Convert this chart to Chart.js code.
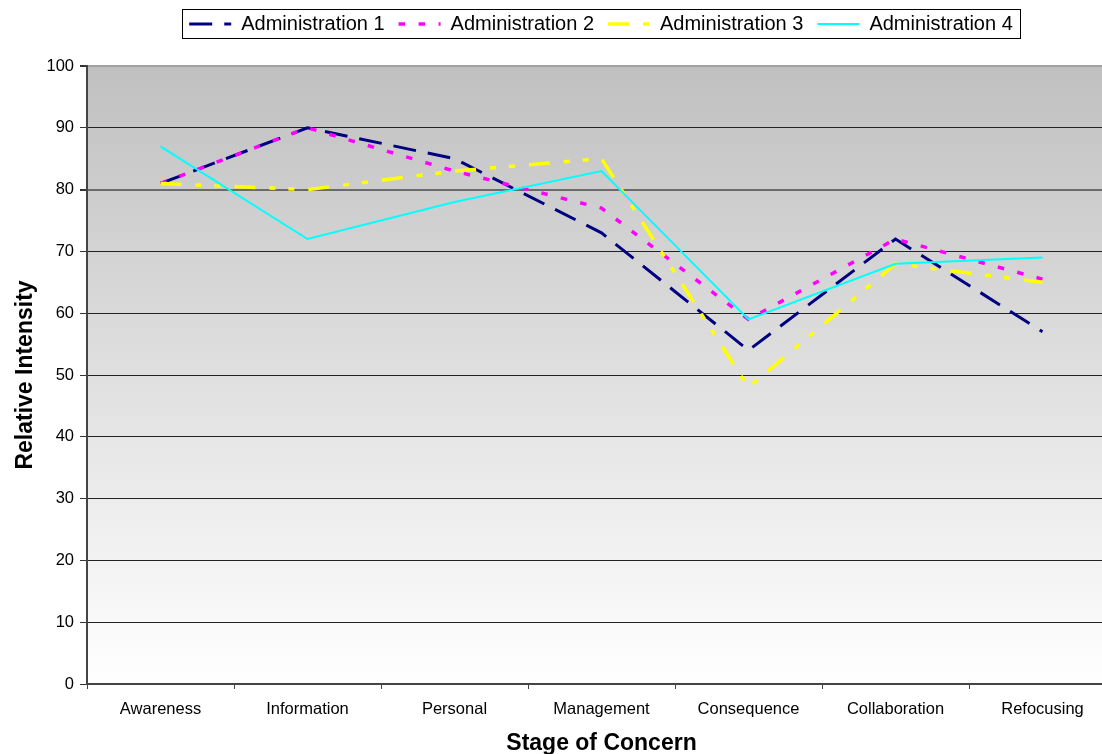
<!DOCTYPE html>
<html>
<head>
<meta charset="utf-8">
<title>Stages of Concern</title>
<script src="https://cdn.jsdelivr.net/npm/chart.js@4.4.1/dist/chart.umd.min.js"></script>
<style>
  html, body { margin: 0; padding: 0; background: #ffffff; overflow: hidden; }
  #wrap { width: 1102px; height: 754px; overflow: hidden; position: relative; }
  canvas { display: block; }
</style>
</head>
<body>
<div id="wrap"><canvas id="c" width="1202" height="754"></canvas></div>
<script>
// Stages of concern profile, one series per administration
const stages = ['Awareness', 'Information', 'Personal', 'Management', 'Consequence', 'Collaboration', 'Refocusing'];
const admin1 = [81, 90, 85, 73, 54, 72, 57];
const admin2 = [81, 90, 83, 77, 59, 72, 65.5];
const admin3 = [81, 80, 83, 85, 48, 68, 65];
const admin4 = [87, 72, 78, 83, 59, 68, 69];
const seriesNames = ['Administration 1', 'Administration 2', 'Administration 3', 'Administration 4'];
const yTicks = [0, 10, 20, 30, 40, 50, 60, 70, 80, 90, 100];

const FONT = "'Liberation Sans', Arial, sans-serif";

// grey-to-white fill behind the plot
const plotBackground = {
  id: 'plotBackground',
  beforeDraw(chart) {
    const { ctx, chartArea: a } = chart;
    const g = ctx.createLinearGradient(0, a.top, 0, a.bottom);
    g.addColorStop(0, '#c0c0c0');
    g.addColorStop(1, '#ffffff');
    ctx.save();
    ctx.fillStyle = g;
    ctx.fillRect(a.left, a.top, a.right - a.left, a.bottom - a.top);
    ctx.restore();
  }
};

// thin frame around the legend row
const legendFrame = {
  id: 'legendFrame',
  afterDraw(chart) {
    const lg = chart.legend;
    if (!lg || !lg.legendHitBoxes || !lg.legendHitBoxes.length) return;
    const boxes = lg.legendHitBoxes;
    const first = boxes[0], last = boxes[boxes.length - 1];
    const left = Math.round(first.left - 7) + 0.5;
    const right = Math.round(last.left + last.width + 7) + 0.5;
    const top = Math.round(first.top + first.height / 2 - 15) + 0.5;
    const bottom = top + 29;
    const ctx = chart.ctx;
    ctx.save();
    ctx.strokeStyle = '#000000';
    ctx.lineWidth = 1;
    ctx.setLineDash([]);
    ctx.strokeRect(left, top, right - left, bottom - top);
    ctx.restore();
  }
};

// legend swatches use each series' own dash pattern and stroke width
function legendLabels(chart) {
  const items = Chart.defaults.plugins.legend.labels.generateLabels(chart);
  return items.map(it => {
    const ds = chart.data.datasets[it.datasetIndex];
    it.lineDash = ds.borderDash || [];
    it.lineDashOffset = 0;
    it.lineWidth = ds.borderWidth;
    it.strokeStyle = ds.borderColor;
    it.fillStyle = ds.borderColor;
    it.lineCap = 'butt';
    return it;
  });
}

const base = { fill: false, tension: 0, pointRadius: 0, pointHoverRadius: 0, borderCapStyle: 'butt', borderJoinStyle: 'miter' };

new Chart(document.getElementById('c'), {
  type: 'line',
  data: {
    labels: stages,
    datasets: [
      Object.assign({}, base, { label: seriesNames[0], data: admin1, borderColor: '#000080', backgroundColor: '#000080', borderWidth: 3, borderDash: [23, 12], order: 4 }),
      Object.assign({}, base, { label: seriesNames[1], data: admin2, borderColor: '#ff00ff', backgroundColor: '#ff00ff', borderWidth: 3.5, borderDash: [6.5, 13.5], order: 3 }),
      Object.assign({}, base, { label: seriesNames[2], data: admin3, borderColor: '#ffff00', backgroundColor: '#ffff00', borderWidth: 3.5, borderDash: [21, 14, 6, 13, 6, 14], order: 2 }),
      Object.assign({}, base, { label: seriesNames[3], data: admin4, borderColor: '#00ffff', backgroundColor: '#00ffff', borderWidth: 2, order: 1 })
    ]
  },
  options: {
    responsive: false,
    devicePixelRatio: 1,
    animation: false,
    layout: { padding: { top: 0, left: 0, right: 0, bottom: 0 } },
    plugins: {
      tooltip: { enabled: false },
      legend: {
        display: true,
        position: 'top',
        align: 'center',
        labels: {
          usePointStyle: true,
          pointStyle: 'line',
          pointStyleWidth: 42,
          padding: 14,
          color: '#000000',
          font: { family: FONT, size: 20 },
          generateLabels: legendLabels,
          sort: (a, b) => a.datasetIndex - b.datasetIndex
        }
      },
      // empty spacer row between the legend and the plot
      subtitle: {
        display: true,
        position: 'top',
        weight: 500,
        text: '',
        font: { family: FONT, size: 22, lineHeight: 1 },
        padding: 0
      }
    },
    scales: {
      x: {
        type: 'category',
        offset: true,
        grid: { display: true, offset: true, drawOnChartArea: false, drawTicks: true, tickLength: 5, tickColor: '#444444', lineWidth: 1 },
        border: { display: true, color: '#444444', width: 2 },
        ticks: { color: '#000000', font: { family: FONT, size: 16.5 }, padding: 11, maxRotation: 0, autoSkip: false },
        title: { display: true, text: 'Stage of Concern', color: '#000000', font: { family: FONT, size: 23, weight: 'bold', lineHeight: 0.87 }, padding: { top: 0, bottom: 0 } },
        afterFit(s) { s.height = 70; }
      },
      y: {
        type: 'linear',
        position: 'left',
        min: 0,
        max: 100,
        afterBuildTicks(s) { s.ticks = yTicks.map(v => ({ value: v })); },
        grid: {
          display: true,
          drawTicks: true,
          tickLength: 7,
          tickColor: '#333333',
          color: c => (c.tick && c.tick.value === 100) ? '#a0a0a0' : (c.tick && c.tick.value === 80) ? '#6a6a6a' : '#222222',
          lineWidth: c => (c.tick && (c.tick.value === 100 || c.tick.value === 80)) ? 2 : 1
        },
        border: { display: true, color: '#444444', width: 2 },
        ticks: { color: '#000000', font: { family: FONT, size: 16.5 }, padding: 6 },
        title: { display: true, text: 'Relative Intensity', color: '#000000', font: { family: FONT, size: 23, weight: 'bold', lineHeight: 1 }, padding: { top: 14.5, bottom: 0 } },
        afterFit(s) { s.width = 87; }
      },
      yRight: {
        type: 'linear',
        position: 'right',
        display: true,
        grid: { display: false, drawTicks: false },
        border: { display: false },
        ticks: { display: false },
        afterFit(s) { s.width = 86; }
      }
    }
  },
  plugins: [plotBackground, legendFrame]
});
</script>
</body>
</html>
